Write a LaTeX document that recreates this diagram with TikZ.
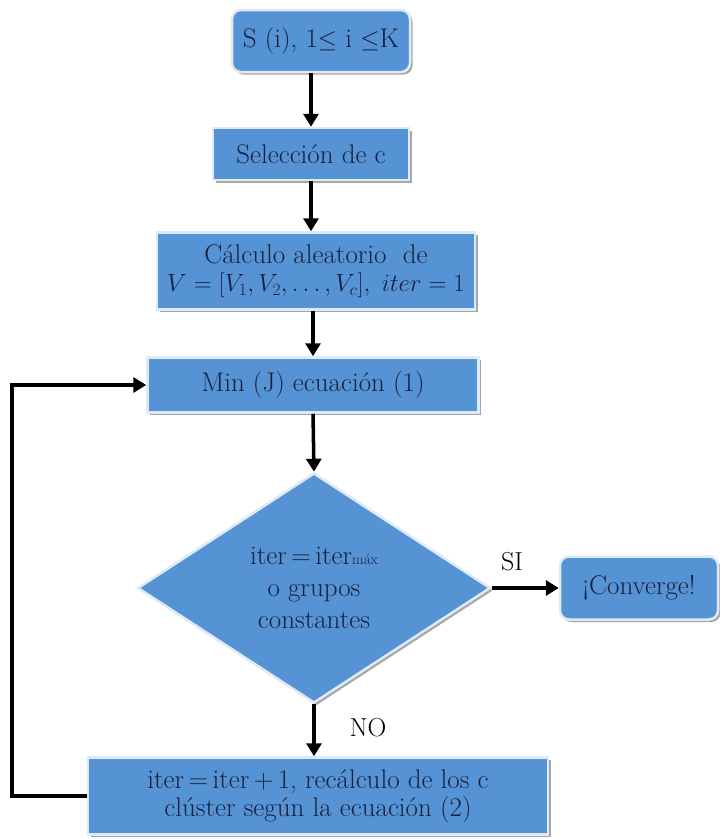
\documentclass[tikz,border=0pt]{standalone}
\usetikzlibrary{shapes.geometric,arrows.meta,shadows}
\definecolor{boxblue}{RGB}{86,147,213}
\definecolor{rim}{RGB}{222,234,246}
\definecolor{ink}{RGB}{24,34,64}
\tikzset{
  base/.style={fill=boxblue, draw=rim, line width=2.5pt, text=ink,
    font=\fontsize{27}{28}\selectfont, align=center, inner sep=0pt,
    drop shadow={shadow xshift=2.5pt, shadow yshift=-2.5pt, fill=black!35, opacity=1}},
  pbox/.style={base, rectangle},
  rbox/.style={base, rectangle, rounded corners=9pt},
  dbox/.style={base, diamond},
  arr/.style={line width=3.5pt, -{Triangle[width=15pt,length=13pt]}},
  lbl/.style={font=\fontsize{26}{28}\selectfont, text=black, inner sep=0pt}
}
\begin{document}
\begin{tikzpicture}[x=1pt,y=-1pt]
\useasboundingbox[fill=white] (0,0) rectangle (720,839);
\node[rbox, minimum width=178pt, minimum height=62pt] (n1) at (321,41) {S (i), 1$\leq$ i $\leq$K};
\node[pbox, minimum width=196pt, minimum height=52pt] (n2) at (311,154) {Selección de c};
\node[pbox, minimum width=318pt, minimum height=77pt] (n3) at (316,271)
  {Cálculo aleatorio\ \ de\\ {\fontsize{23}{28}\selectfont $V=[V_1,V_2,\dots,V_c],\ iter=1$}};
\node[pbox, minimum width=331pt, minimum height=55pt] (n4) at (313,385) {Min (J) ecuación (1)};
\node[dbox, minimum width=353pt, minimum height=230pt] (dec) at (314,588)
  {iter\,=\,iter{\fontsize{15}{15}\selectfont máx}\\[4pt] o grupos\\[4pt] constantes};
\node[rbox, minimum width=158pt, minimum height=63pt] (conv) at (639,588) {¡Converge!};
\node[pbox, minimum width=460pt, minimum height=77pt] (n5) at (318,796)
  {iter\,=\,iter\,+\,1,\ recálculo de los c\\ clúster según la ecuación (2)};
\coordinate (lp) at (12,797);

\draw[arr] (n1.south -| n2.north) -- (n2.north);
\draw[arr] (n2.south) -- (n2.south |- n3.north);
\draw[arr] (n3.south -| n4.north) -- (n4.north);
\draw[arr] (n4.south) -- (dec.north);
\draw[arr] (dec.east) -- (conv.west);
\draw[arr] (dec.south) -- (dec.south |- n5.north);
\draw[arr] (n5.west) -- (n5.west -| lp) |- (n4.west);

\node[lbl] (si) at (512,562) {SI};
\node[lbl] (no) at (368,728) {NO};
\end{tikzpicture}
\end{document}
